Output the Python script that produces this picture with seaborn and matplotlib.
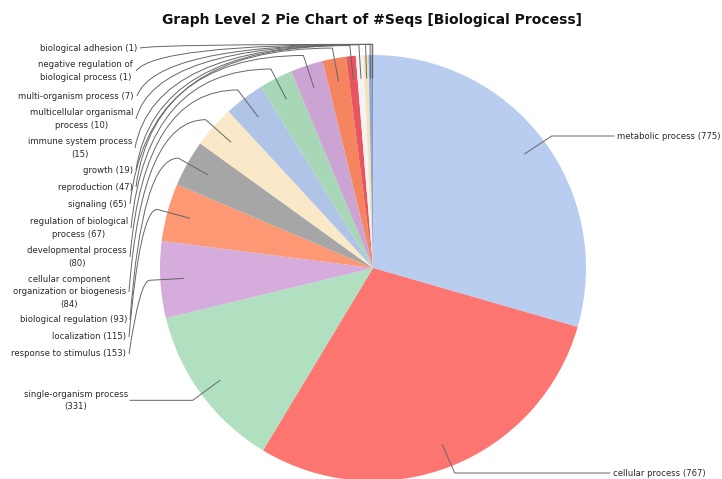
import numpy as np
import matplotlib
matplotlib.use("Agg")
import matplotlib.pyplot as plt
import seaborn as sns
from matplotlib.path import Path
from matplotlib.patches import PathPatch

sns.set_theme(style="white")
plt.rcParams['font.family'] = ['DejaVu Sans']

# ---------------- data ----------------
categories = [
    "metabolic process", "cellular process", "single-organism process",
    "response to stimulus", "localization", "biological regulation",
    "cellular component organization or biogenesis", "developmental process",
    "regulation of biological process", "signaling", "reproduction", "growth",
    "immune system process", "multicellular organismal process",
    "multi-organism process", "negative regulation of biological process",
    "biological adhesion",
]
counts = [775, 767, 331, 153, 115, 93, 84, 80, 67, 65, 47, 19, 15, 10, 7, 1, 1]
label_names = [
    "metabolic process", "cellular process", "single-organism process",
    "response to stimulus", "localization", "biological regulation",
    "cellular component\norganization or biogenesis", "developmental process",
    "regulation of biological\nprocess", "signaling", "reproduction", "growth",
    "immune system process", "multicellular organismal\nprocess",
    "multi-organism process", "negative regulation of\nbiological process",
    "biological adhesion",
]
colors = [
    "#b9cdf1", "#fd7570", "#b0e0c0", "#d5acdb", "#fc9874", "#a6a6a6",
    "#fae9c8", "#b0c4e7", "#a7d7b6", "#cba4d3", "#f4855e", "#e8555e",
    "#f3f3f3", "#f5e2b9", "#8fa8d9", "#5a6f95", "#44546e",
]
title = "Graph Level 2 Pie Chart of #Seqs [Biological Process]"

# display text for each label (count appended)
def label_text(i):
    name = label_names[i]
    if i in (2, 6, 7, 12):
        return f"{name}\n({counts[i]})"
    return f"{name} ({counts[i]})"

# ---------------- layout ----------------
W, H = 722, 479
fig = plt.figure(figsize=(W / 100, H / 100), dpi=100)
ax = fig.add_axes([0, 0, 1, 1])

def py(y):  # pixel-from-top -> data y
    return H - y

cx, cy, R = 373, py(268), 213
wedges, _ = ax.pie(counts, colors=colors, startangle=90, counterclock=False,
                   radius=R, center=(cx, cy),
                   wedgeprops=dict(linewidth=0))
ax.set_xlim(0, W)
ax.set_ylim(0, H)
ax.set_aspect('equal')
ax.axis('off')

LC = "#666666"
LW = 0.7
FS = 6.1
TC = "#2a2a2a"
LS = 1.45

def pts(w, f):
    a = np.deg2rad((w.theta1 + w.theta2) / 2)
    return cx + f * R * np.cos(a), cy + f * R * np.sin(a)

# left-hand labels: (right edge x px, center y px)
left_pos = {
    3: (126, 354), 4: (126, 337), 5: (127, 320), 6: (126, 292),
    7: (127, 257), 8: (128, 228), 9: (127, 204), 10: (133, 187),
    11: (133, 170), 12: (132, 148), 13: (133, 119), 14: (134, 96),
    15: (133, 71), 16: (137, 48),
}

for i, w in enumerate(wedges):
    ax_, ay_ = pts(w, 0.89)
    ex, ey = pts(w, 1.05)
    if i == 0:
        lx = 614
        ey = py(136)
        ax.plot([ax_, ex, lx], [ay_, ey, ey], color=LC, lw=LW)
        ax.text(lx + 3, ey, label_text(i), ha='left', va='center', fontsize=FS, color=TC)
    elif i == 1:
        lx = 610
        ey = py(473)
        ax.plot([ax_, ex, lx], [ay_, ey, ey], color=LC, lw=LW)
        ax.text(lx + 3, ey, label_text(i), ha='left', va='center', fontsize=FS, color=TC)
    elif i == 2:
        lx = 130
        ax.plot([ax_, ex, lx], [ay_, ey, ey], color=LC, lw=LW)
        ax.text(76, ey, label_text(i), ha='center', va='center', fontsize=FS,
                multialignment='center', linespacing=LS, color=TC)
    else:
        xr, yc = left_pos[i]
        sx, sy = xr + 3, py(yc)
        ctrl = (sx + 10 + 0.04 * (ex - sx), ey)
        path = Path([(sx, sy), ctrl, (ex, ey), (ax_, ay_)],
                    [Path.MOVETO, Path.CURVE3, Path.CURVE3, Path.LINETO])
        ax.add_patch(PathPatch(path, fill=False, edgecolor=LC, lw=LW))
        ax.text(xr, sy, label_text(i), ha='right', va='center', fontsize=FS,
                multialignment='center', linespacing=LS, color=TC)

fig.text(372 / W, 1 - 20 / H, title, ha='center', va='center',
         fontsize=10, fontweight='bold', color="#111111")

fig.savefig("out.png", dpi=100)
